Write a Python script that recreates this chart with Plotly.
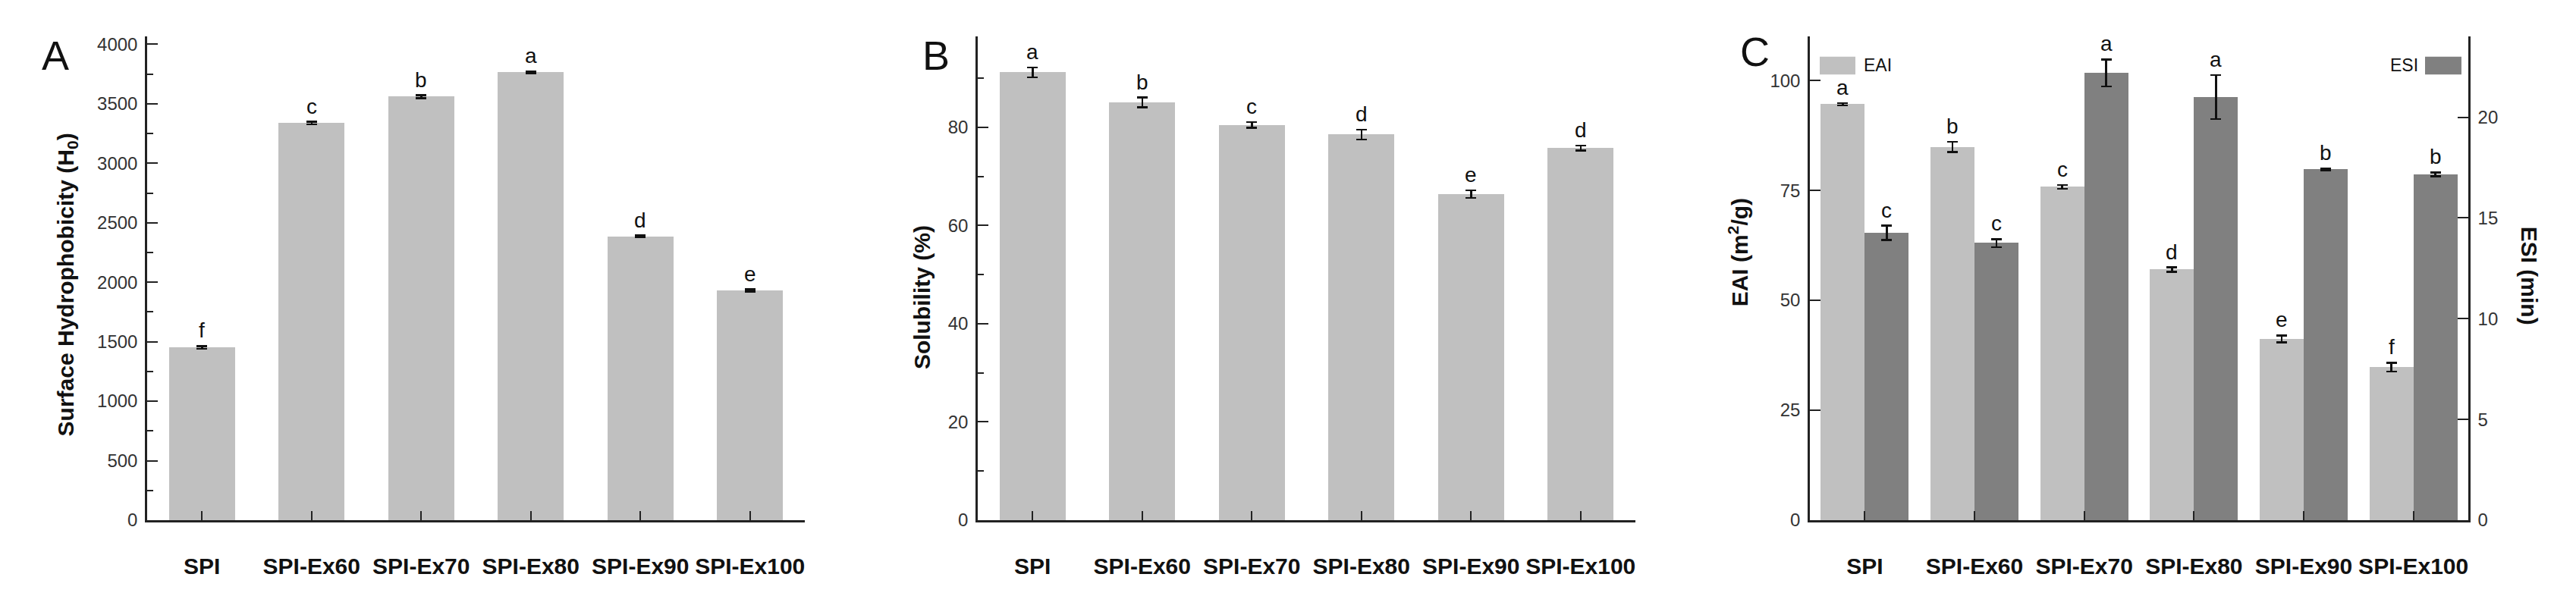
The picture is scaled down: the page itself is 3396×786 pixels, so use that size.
import plotly.graph_objects as go

categories = ["SPI", "SPI-Ex60", "SPI-Ex70", "SPI-Ex80", "SPI-Ex90", "SPI-Ex100"]

hydro = [1452, 3338, 3560, 3765, 2385, 1930]
hydro_err = [12, 10, 12, 8, 8, 10]
hydro_letters = ["f", "c", "b", "a", "d", "e"]

sol = [91.2, 85.1, 80.5, 78.5, 66.4, 75.8]
sol_err = [1.0, 1.0, 0.6, 1.0, 0.8, 0.5]
sol_letters = ["a", "b", "c", "d", "e", "d"]

eai = [94.6, 84.9, 75.8, 57.0, 41.2, 34.8]
eai_err = [0.3, 1.2, 0.4, 0.5, 0.8, 1.0]
eai_letters = ["a", "b", "c", "d", "e", "f"]

esi = [14.26, 13.75, 22.2, 21.0, 17.4, 17.16]
esi_err = [0.35, 0.2, 0.67, 1.09, 0.05, 0.1]
esi_letters = ["c", "c", "a", "a", "b", "b"]

LIGHT = "#c0c0c0"
DARK = "#808080"
AX = "#222222"
FONT = "Arial, Liberation Sans, sans-serif"
W, H = 3396, 786

fig = go.Figure()

err_style = dict(type="data", color="#111111", thickness=2.5, width=7)

fig.add_trace(go.Bar(x=categories, y=hydro, width=0.6, marker=dict(color=LIGHT, line=dict(width=0)),
                     error_y=dict(array=hydro_err, **err_style), xaxis="x", yaxis="y", showlegend=False))
fig.add_trace(go.Bar(x=categories, y=sol, width=0.6, marker=dict(color=LIGHT, line=dict(width=0)),
                     error_y=dict(array=sol_err, **err_style), xaxis="x2", yaxis="y2", showlegend=False))
fig.add_trace(go.Bar(x=categories, y=eai, width=0.4, offset=-0.4, marker=dict(color=LIGHT, line=dict(width=0)),
                     error_y=dict(array=eai_err, **err_style), xaxis="x3", yaxis="y3", showlegend=False, name="EAI"))
fig.add_trace(go.Bar(x=categories, y=esi, width=0.4, offset=0.0, marker=dict(color=DARK, line=dict(width=0)),
                     error_y=dict(array=esi_err, **err_style), xaxis="x3", yaxis="y4", showlegend=False, name="ESI"))

ydom = [(H - 689) / H, (H - 38) / H]
doms = [[186 / W, 1053 / W], [1281 / W, 2148 / W], [2378 / W, 3246 / W]]

def xax(dom, anchor):
    return dict(domain=dom, anchor=anchor, type="category", range=[-0.5, 5.5],
                showline=True, linecolor=AX, linewidth=2.5, ticks="inside", ticklen=12,
                tickwidth=2, tickcolor=AX, showgrid=False, zeroline=False,
                tickfont=dict(family=FONT, size=30, color="#111111", weight="bold"),
                ticklabelstandoff=32, fixedrange=True)

def yax(anchor, rng, dtick, minor_dtick=None, side="left", overlaying=None):
    d = dict(domain=ydom, anchor=anchor, range=rng, dtick=dtick, tick0=0,
             showline=True, linecolor=AX, linewidth=2.5, ticks="inside", ticklen=14,
             tickwidth=2, tickcolor=AX, showgrid=False, zeroline=False, side=side,
             tickfont=dict(family=FONT, size=24, color="#333333"), ticklabelstandoff=5)
    if minor_dtick:
        d["minor"] = dict(dtick=minor_dtick, ticks="inside", ticklen=8, tickwidth=2, tickcolor=AX, showgrid=False)
    if overlaying:
        d["overlaying"] = overlaying
    return d

fig.update_layout(
    width=W, height=H, margin=dict(l=0, r=0, t=0, b=0),
    paper_bgcolor="white", plot_bgcolor="rgba(0,0,0,0)",
    bargap=0, barmode="overlay",
    xaxis=xax(doms[0], "y"), yaxis=yax("x", [0, 4065], 500, 250),
    xaxis2=xax(doms[1], "y2"), yaxis2=yax("x2", [0, 98.5], 20, 10),
    xaxis3=xax(doms[2], "y3"), yaxis3=yax("x3", [0, 110], 25),
    yaxis4=yax("x3", [0, 24], 5, side="right", overlaying="y3"),
)

ann = []
def letters(xref, yref, ys, errs, labels, shift=0.0):
    for i, (v, e, t) in enumerate(zip(ys, errs, labels)):
        ann.append(dict(x=i + shift, y=v + e, xref=xref, yref=yref, text=t, showarrow=False,
                        yanchor="bottom", yshift=3, font=dict(family=FONT, size=28, color="#111111")))

letters("x", "y", hydro, hydro_err, hydro_letters)
letters("x2", "y2", sol, sol_err, sol_letters)
letters("x3", "y3", eai, eai_err, eai_letters, shift=-0.2)
letters("x3", "y4", esi, esi_err, esi_letters, shift=0.2)

def ptxt(x, y, text, size, angle=0, bold=False, xanchor="center"):
    ann.append(dict(x=x / W, y=1 - y / H, xref="paper", yref="paper", text=text, showarrow=False,
                    textangle=angle, xanchor=xanchor, yanchor="middle",
                    font=dict(family=FONT, size=size, color="#111111", weight="bold" if bold else "normal")))

# panel letters
ptxt(65, 63, "A", 54)
ptxt(1226, 63, "B", 54)
ptxt(2305, 58, "C", 54)
# axis titles
ptxt(80, 372, "Surface Hydrophobicity (H<sub>0</sub>)", 30, -90, True)
ptxt(1207, 389, "Solubility (%)", 30, -90, True)
ptxt(2284, 329, "EAI (m<sup>2</sup>/g)", 30, -90, True)
ptxt(3326, 360, "ESI (min)", 30, 90, True)
# legend texts
ptxt(2447, 77, "EAI", 23, xanchor="left")
ptxt(3182, 77, "ESI", 23, xanchor="right")

fig.update_layout(annotations=ann)

shapes = [
    dict(type="rect", xref="paper", yref="paper", x0=2391 / W, x1=2438 / W, y0=1 - 89 / H, y1=1 - 65 / H,
         fillcolor=LIGHT, line=dict(width=0)),
    dict(type="rect", xref="paper", yref="paper", x0=3189 / W, x1=3237 / W, y0=1 - 89 / H, y1=1 - 65 / H,
         fillcolor=DARK, line=dict(width=0)),
]
fig.update_layout(shapes=shapes)

fig.write_html("out.html")
